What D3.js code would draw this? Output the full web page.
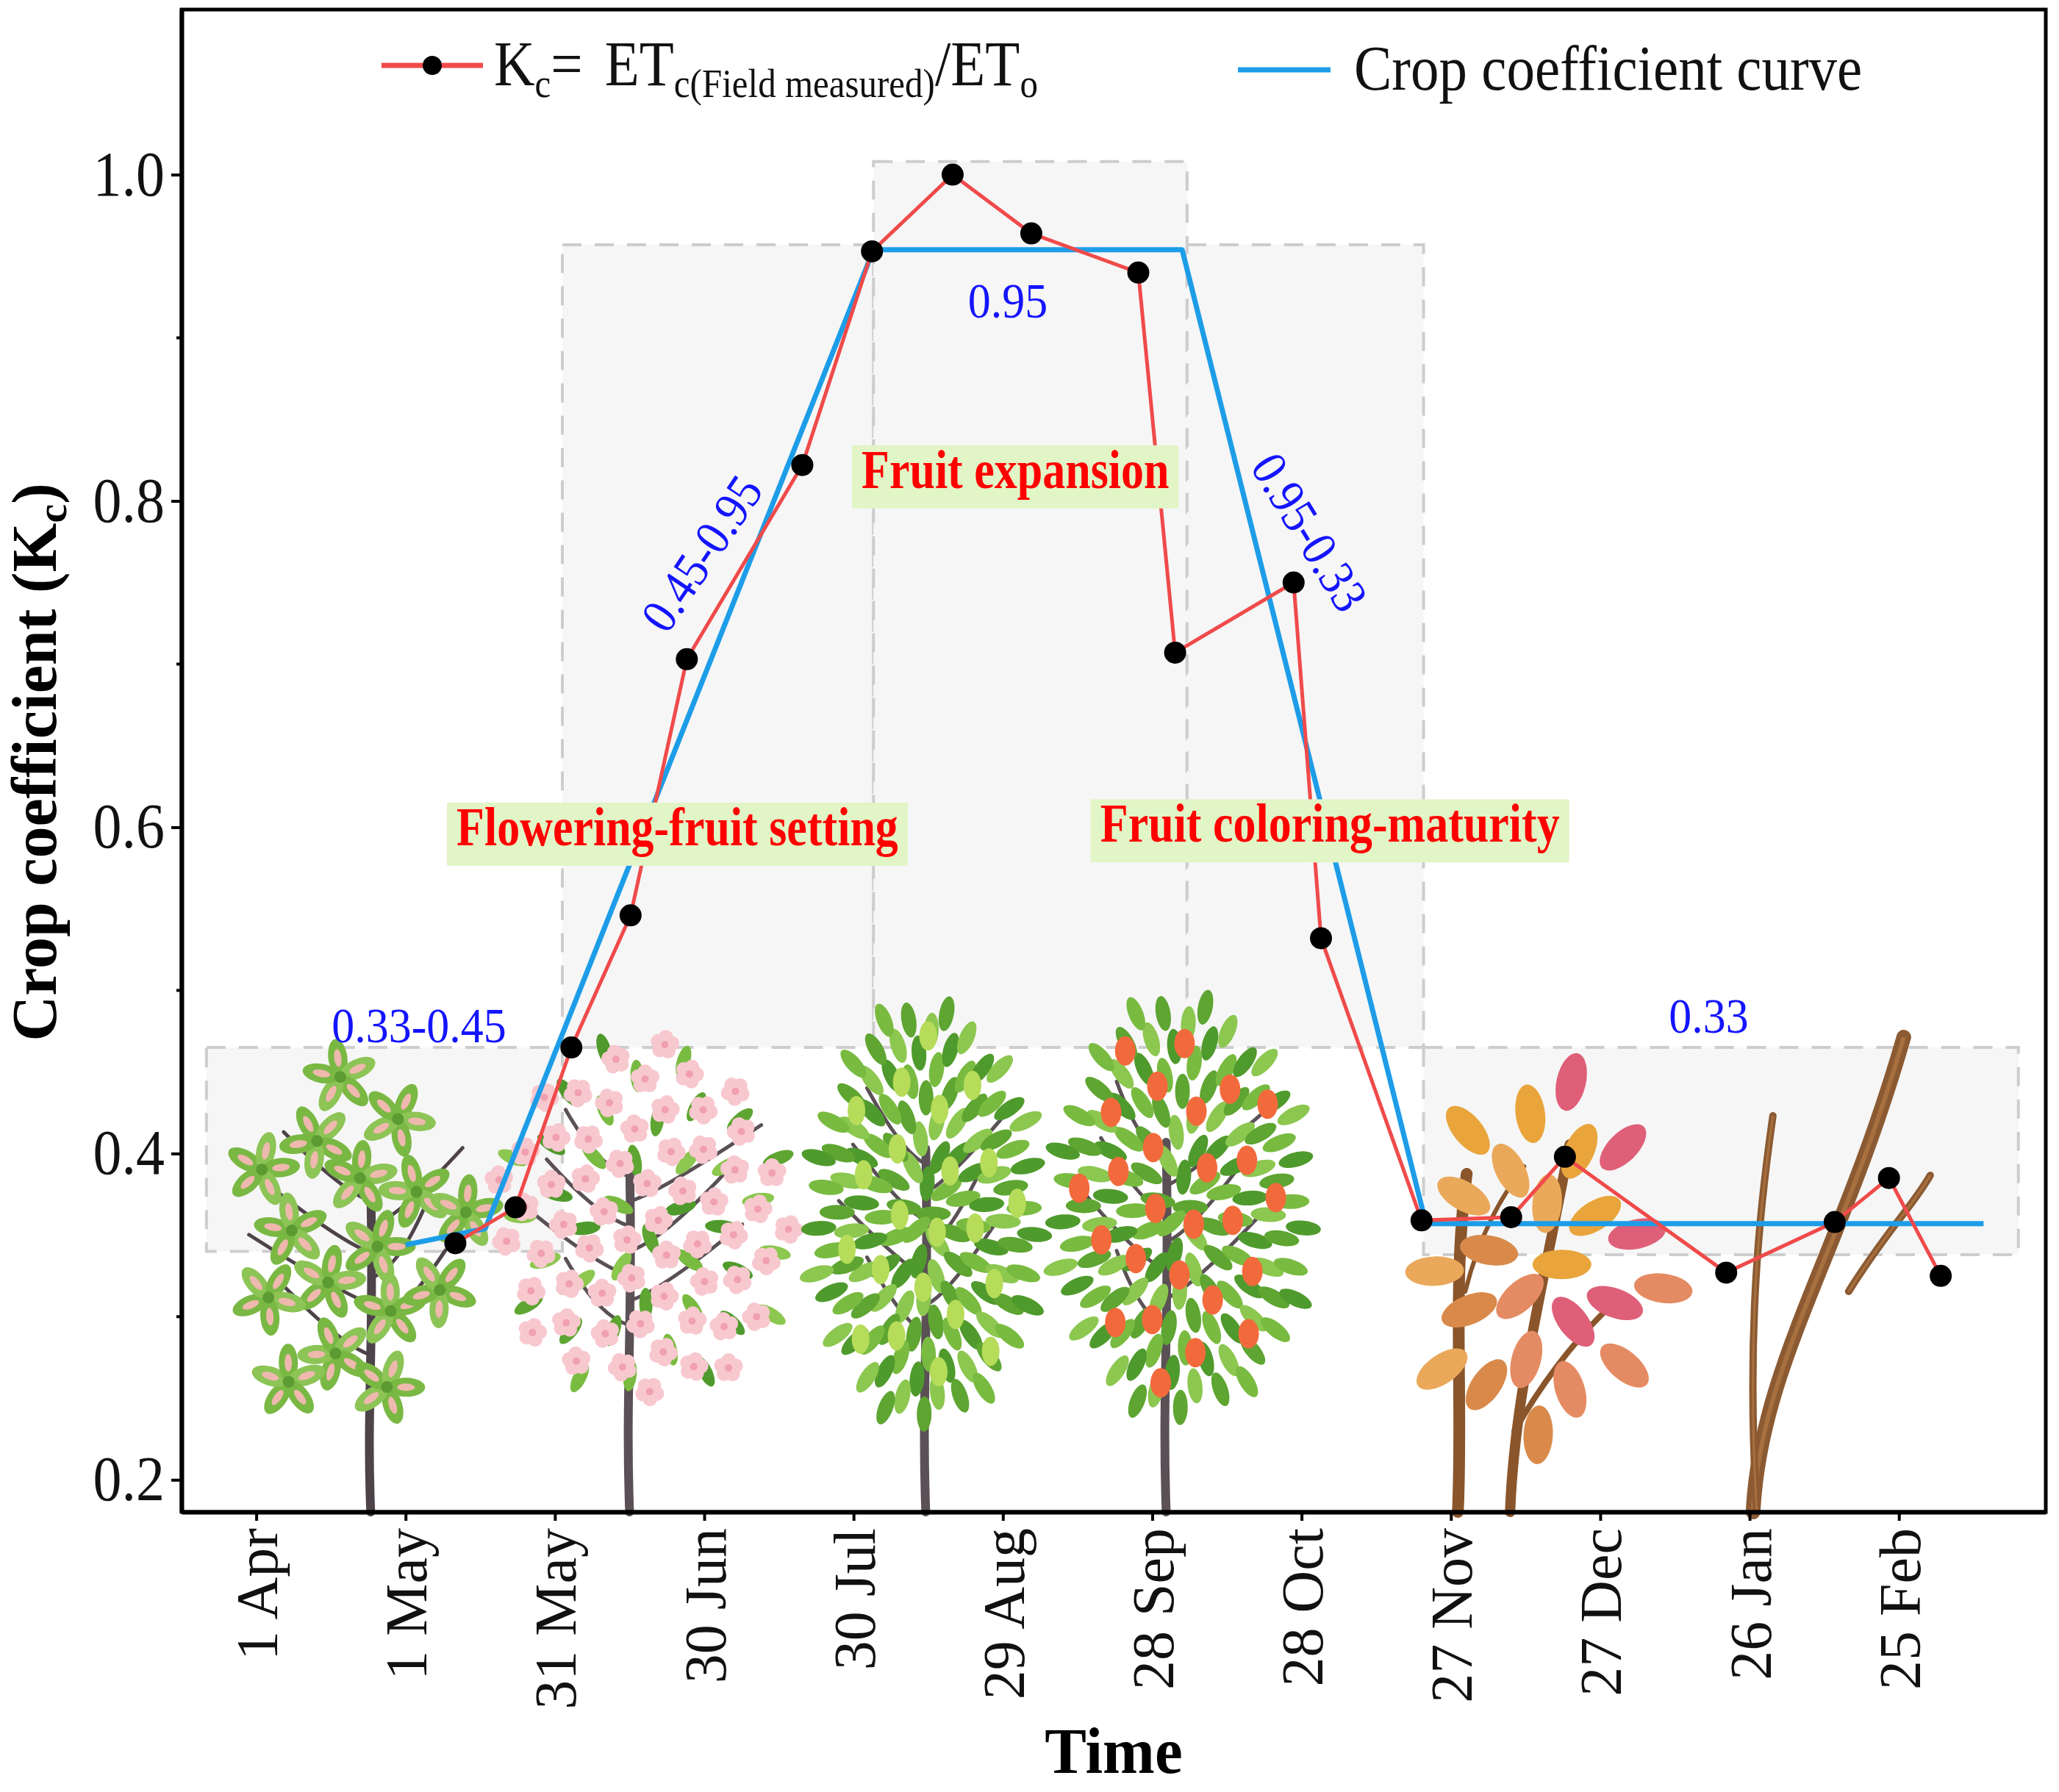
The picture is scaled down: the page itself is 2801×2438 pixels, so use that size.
<!DOCTYPE html>
<html>
<head>
<meta charset="utf-8">
<script src="https://cdn.jsdelivr.net/npm/d3@7"></script>
<style>
  body { margin: 0; background: #fff; }
  svg { display: block; }
</style>
</head>
<body>
<div id="chart"></div>
<script>
// ---- data (days counted from 1 Apr) ----
const tickDays = [0, 30, 60, 90, 120, 150, 180, 210, 240, 270, 300, 330];
const tickLabels = ["1 Apr", "1 May", "31 May", "30 Jun", "30 Jul", "29 Aug",
  "28 Sep", "28 Oct", "27 Nov", "27 Dec", "26 Jan", "25 Feb"];
const yTicks = [0.2, 0.4, 0.6, 0.8, 1.0];
const yMinorTicks = [0.3, 0.5, 0.7, 0.9];

// Kc = ETc(field measured) / ETo
const kcDays = [40.0, 52.1, 63.3, 75.2, 86.5, 109.7, 123.7, 139.9, 155.7, 177.2,
  184.6, 208.4, 213.9, 234.1, 252.1, 262.9, 295.3, 317.1, 328.0, 338.4];
const kcMeasured = [0.345, 0.367, 0.465, 0.546, 0.703, 0.822, 0.953, 1.000, 0.964, 0.940,
  0.707, 0.750, 0.532, 0.359, 0.361, 0.398, 0.327, 0.358, 0.385, 0.325];

// crop coefficient curve
const curveDays = [30, 46, 124, 186, 235, 347];
const curveKc = [0.344, 0.354, 0.954, 0.954, 0.357, 0.357];

// shaded growth stages
const stageStart = [-10, 61.5, 124, 187, 234.5];
const stageEnd = [61.5, 124, 187, 234.5, 354];
const stageLow = [0.34, 0.465, 0.465, 0.465, 0.338];
const stageHigh = [0.465, 0.957, 1.008, 0.957, 0.465];

// stage names
const stageNames = ["Flowering-fruit setting", "Fruit expansion", "Fruit coloring-maturity"];
const stageNameDay = [84.6, 152.5, 215.7];
const stageNameKc = [0.589, 0.808, 0.591];

// Kc value labels
const kcLabels = ["0.33-0.45", "0.45-0.95", "0.95", "0.95-0.33", "0.33"];
const kcLabelDay = [32.7, 89.4, 151, 211.7, 291.8];
const kcLabelKc = [0.479, 0.768, 0.923, 0.781, 0.485];
const kcLabelAngle = [0, -56, 0, 58.5, 0];

// ---- layout ----
const W = 2801, H = 2438;
const margin = {top: 13, right: 18, bottom: 381, left: 247};
const serif = "'Liberation Serif', 'Times New Roman', Times, serif";

const svg = d3.select("#chart").append("svg")
  .attr("width", W)
  .attr("height", H);

const x = d3.scaleLinear().domain([-15, 359.5]).range([margin.left, W - margin.right]);
const y = d3.scaleLinear().domain([0.1803, 1.1012]).range([H - margin.bottom, margin.top]);
const base = y.range()[0];

// stage boxes
svg.append("g").selectAll("rect")
  .data(stageStart)
  .join("rect")
  .attr("x", d => x(d))
  .attr("y", (d, i) => y(stageHigh[i]))
  .attr("width", (d, i) => x(stageEnd[i]) - x(d))
  .attr("height", (d, i) => y(stageLow[i]) - y(stageHigh[i]))
  .attr("fill", "#f6f6f6")
  .attr("stroke", "#cdcdcd")
  .attr("stroke-width", 4)
  .attr("stroke-dasharray", "26 18");

// ---- tree illustrations (decoration) ----
const trees = [
  {kind: "spring", day: 20, kc: 0.343, hw: 29, hh: 0.121, trunkDay: 23},
  {kind: "bloom", day: 78, kc: 0.359, hw: 31.7, hh: 0.117, trunkDay: 75},
  {kind: "young", day: 134.5, kc: 0.363, hw: 23.6, hh: 0.133, trunkDay: 134.5},
  {kind: "ripe", day: 186, kc: 0.367, hw: 26.3, hh: 0.133, trunkDay: 182.8},
  {kind: "autumn", day: 258.6, kc: 0.332, hw: 27, hh: 0.122, trunkDay: 241.4},
  {kind: "bare", day: 318, kc: 0.40, hw: 18, hh: 0.07, trunkDay: 300.7}
];
const GA = Math.PI * (3 - Math.sqrt(5));
const greens = ["#5ea531", "#79bb40", "#4f9a2c", "#8cc74f"];

function spots(n, cx, cy, rx, ry, fill, start) {
  const out = [];
  for (let i = 0; i < n; i++) {
    const r = Math.sqrt((i + 0.5) / n) * fill;
    const a = (i + start) * GA;
    out.push({x: cx + r * rx * Math.cos(a), y: cy + r * ry * Math.sin(a), a: a * 180 / Math.PI, i: i});
  }
  return out;
}

function woody(g, tx, cx, cy, rx, ry, color) {
  g.append("path")
    .attr("d", `M${tx},${base} C${tx - 6},${base - (base - cy) * 0.4} ${tx + 5},${cy + ry * 0.5} ${tx},${cy - ry * 0.3}`)
    .attr("fill", "none").attr("stroke", color).attr("stroke-width", 12).attr("stroke-linecap", "round");
  for (let k = 0; k < 7; k++) {
    const side = k % 2 ? 1 : -1;
    const sy = cy + ry * (0.55 - k * 0.13);
    const ex = cx + side * rx * (0.5 + 0.12 * (k % 3));
    const ey = sy - ry * (0.35 + 0.05 * (k % 2));
    g.append("path")
      .attr("d", `M${tx},${sy} Q${tx + side * rx * 0.2},${sy - ry * 0.05} ${ex},${ey}`)
      .attr("fill", "none").attr("stroke", color).attr("stroke-width", 5).attr("stroke-linecap", "round");
  }
}

function leaf(g, p, len, wid, color) {
  g.append("ellipse")
    .attr("cx", p.x).attr("cy", p.y).attr("rx", len).attr("ry", wid)
    .attr("transform", `rotate(${p.a},${p.x},${p.y})`)
    .attr("fill", color);
}

const treeLayer = svg.append("g");
trees.forEach(t => {
  const g = treeLayer.append("g");
  const cx = x(t.day), cy = y(t.kc);
  const rx = x(t.day + t.hw) - cx, ry = y(t.kc - t.hh) - cy;
  const tx = x(t.trunkDay);

  if (t.kind === "spring") {
    woody(g, tx, cx, cy, rx, ry, "#4d4349");
    spots(16, cx, cy, rx * 0.85, ry * 0.88, 1, 0).forEach(c => {
      for (let j = 0; j < 5; j++) {
        const a = c.a + j * 72;
        const r = a * Math.PI / 180;
        const p = {x: c.x + 26 * Math.cos(r), y: c.y + 26 * Math.sin(r), a: a};
        leaf(g, p, 26, 13, j % 2 ? "#8cc456" : "#7ab844");
        leaf(g, p, 12, 5, "#efb8ae");
      }
      g.append("circle").attr("cx", c.x).attr("cy", c.y).attr("r", 8).attr("fill", "#5c9a32");
    });
  } else if (t.kind === "bloom") {
    woody(g, tx, cx, cy, rx, ry, "#5a5055");
    spots(40, cx, cy, rx, ry, 0.95, 0.5).forEach(p => leaf(g, p, 22, 9, greens[p.i % 4]));
    spots(60, cx, cy, rx, ry, 0.95, 0).forEach(p => {
      for (let j = 0; j < 5; j++) {
        const r = (p.a + j * 72) * Math.PI / 180;
        g.append("circle").attr("cx", p.x + 10 * Math.cos(r)).attr("cy", p.y + 10 * Math.sin(r))
          .attr("r", 10).attr("fill", "#f8c8cf");
      }
      g.append("circle").attr("cx", p.x).attr("cy", p.y).attr("r", 5).attr("fill", "#f0a0ae");
    });
  } else if (t.kind === "young" || t.kind === "ripe") {
    woody(g, tx, cx, cy, rx, ry, "#5a5055");
    spots(120, cx, cy, rx, ry, 0.97, 0).forEach(p => leaf(g, p, 24, 10, greens[p.i % 4]));
    const fruit = t.kind === "young" ? "#b6dc5a" : "#f26a3c";
    spots(t.kind === "young" ? 22 : 26, cx, cy, rx * 0.85, ry * 0.85, 1, 0.3).forEach(p => {
      g.append("ellipse").attr("cx", p.x).attr("cy", p.y)
        .attr("rx", t.kind === "young" ? 12 : 14).attr("ry", 20).attr("fill", fruit);
    });
  } else if (t.kind === "autumn") {
    const brown = "#8a552b";
    [[`M${tx},${base} C${tx + 7},${base - 160} ${tx - 8},${base - 310} ${tx + 12},${base - 460}`, 16],
     [`M${tx + 71},${base} C${tx + 77},${base - 160} ${tx + 117},${base - 310} ${tx + 152},${base - 500}`, 14],
     [`M${tx + 77},${base - 110} C${tx + 117},${base - 180} ${tx + 157},${base - 230} ${tx + 197},${base - 270}`, 8],
     [`M${tx + 10},${base - 300} C${tx + 30},${base - 380} ${tx + 60},${base - 430} ${tx + 90},${base - 470}`, 6]]
      .forEach(b => g.append("path").attr("d", b[0]).attr("fill", "none").attr("stroke", brown)
        .attr("stroke-width", b[1]).attr("stroke-linecap", "round"));
    const warm = ["#e9a53b", "#e58b63", "#eaa85a", "#df5f78", "#d98a4a"];
    spots(24, cx, cy, rx, ry, 0.95, 0).forEach(p => leaf(g, p, 40, 20, warm[p.i % 5]));
  } else if (t.kind === "bare") {
    const brown = "#8b5a32";
    [[`M${tx},${base} C${tx + 10},${base - 200} ${tx + 120},${base - 350} ${tx + 205},${base - 646}`, 20],
     [`M${tx + 5},${base} C${tx - 10},${base - 250} ${tx + 10},${base - 420} ${tx + 27},${base - 539}`, 10],
     [`M${tx + 130},${base - 300} C${tx + 180},${base - 380} ${tx + 220},${base - 420} ${tx + 241},${base - 458}`, 10]]
      .forEach(b => {
        g.append("path").attr("d", b[0]).attr("fill", "none").attr("stroke", brown)
          .attr("stroke-width", b[1]).attr("stroke-linecap", "round");
        g.append("path").attr("d", b[0]).attr("fill", "none").attr("stroke", "#a8703f")
          .attr("stroke-width", b[1] * 0.3);
      });
  }
});

// ---- series ----
svg.append("path")
  .datum(curveKc)
  .attr("fill", "none")
  .attr("stroke", "#1d9de8")
  .attr("stroke-width", 7)
  .attr("stroke-linejoin", "round")
  .attr("d", d3.line().x((d, i) => x(curveDays[i])).y(d => y(d)));

svg.append("path")
  .datum(kcMeasured)
  .attr("fill", "none")
  .attr("stroke", "#f04a4a")
  .attr("stroke-width", 5)
  .attr("d", d3.line().x((d, i) => x(kcDays[i])).y(d => y(d)));

svg.append("g").selectAll("circle")
  .data(kcMeasured)
  .join("circle")
  .attr("cx", (d, i) => x(kcDays[i]))
  .attr("cy", d => y(d))
  .attr("r", 15)
  .attr("fill", "#000");

// ---- stage name boxes ----
stageNames.forEach((name, i) => {
  const px = x(stageNameDay[i]), py = y(stageNameKc[i]);
  const g = svg.append("g");
  const rect = g.append("rect").attr("fill", "#e2f5c6");
  const txt = g.append("text")
    .attr("text-anchor", "middle")
    .attr("font-family", serif)
    .attr("font-weight", "bold")
    .attr("font-size", 62)
    .attr("fill", "#ff0000")
    .attr("transform", `translate(${px},${py}) scale(1,1.18)`)
    .text(name);
  const w = txt.node().getComputedTextLength() + 26;
  rect.attr("x", px - w / 2).attr("y", py - 58).attr("width", w).attr("height", 86);
});

// ---- Kc value labels ----
kcLabels.forEach((lab, i) => {
  svg.append("text")
    .attr("text-anchor", "middle")
    .attr("dy", "0.35em")
    .attr("font-family", serif)
    .attr("font-size", 62)
    .attr("fill", "#1414ff")
    .attr("transform", `translate(${x(kcLabelDay[i])},${y(kcLabelKc[i])}) rotate(${kcLabelAngle[i]}) scale(1,1.1)`)
    .text(lab);
});

// ---- axes ----
const gy = svg.append("g")
  .attr("transform", `translate(${margin.left},0)`)
  .call(d3.axisLeft(y).tickValues(yTicks).tickFormat(d3.format(".1f"))
    .tickSize(14).tickPadding(9).tickSizeOuter(0));
gy.select(".domain").attr("stroke", "#000").attr("stroke-width", 6);
gy.selectAll(".tick line").attr("stroke", "#000").attr("stroke-width", 4);
gy.selectAll(".tick text")
  .attr("font-family", serif)
  .attr("font-size", 78)
  .attr("fill", "#111")
  .attr("transform", "scale(1,1.1)");

svg.append("g").selectAll("line")
  .data(yMinorTicks)
  .join("line")
  .attr("x1", margin.left - 7)
  .attr("x2", margin.left)
  .attr("y1", d => y(d))
  .attr("y2", d => y(d))
  .attr("stroke", "#000")
  .attr("stroke-width", 4);

const gx = svg.append("g")
  .attr("transform", `translate(0,${base})`)
  .call(d3.axisBottom(x).tickValues(tickDays).tickFormat((d, i) => tickLabels[i])
    .tickSize(12).tickSizeOuter(0));
gx.select(".domain").attr("stroke", "#000").attr("stroke-width", 6);
gx.selectAll(".tick line").attr("stroke", "#000").attr("stroke-width", 4);
gx.selectAll(".tick text")
  .attr("font-family", serif)
  .attr("font-size", 80)
  .attr("fill", "#111")
  .attr("transform", "rotate(-90)")
  .attr("x", -22)
  .attr("y", 0)
  .attr("dy", "0.35em")
  .style("text-anchor", "end");

// frame
svg.append("rect")
  .attr("x", margin.left)
  .attr("y", margin.top)
  .attr("width", W - margin.right - margin.left)
  .attr("height", base - margin.top)
  .attr("fill", "none")
  .attr("stroke", "#000")
  .attr("stroke-width", 5);

// axis titles
svg.append("text")
  .attr("text-anchor", "middle")
  .attr("font-family", serif)
  .attr("font-weight", "bold")
  .attr("font-size", 85)
  .attr("transform", `translate(${(margin.left + W - margin.right) / 2},2412) scale(1,1.05)`)
  .text("Time");

const yTitle = svg.append("text")
  .attr("text-anchor", "middle")
  .attr("font-family", serif)
  .attr("font-weight", "bold")
  .attr("font-size", 86)
  .attr("transform", "translate(76,1037) rotate(-90)");
yTitle.append("tspan").text("Crop coefficient (K");
yTitle.append("tspan").attr("font-size", 58).attr("dy", 14).text("c");
yTitle.append("tspan").attr("dy", -14).text(")");

// ---- legend ----
const leg = svg.append("g");
leg.append("line").attr("x1", 519).attr("x2", 657).attr("y1", 89).attr("y2", 89)
  .attr("stroke", "#f04a4a").attr("stroke-width", 7);
leg.append("circle").attr("cx", 588).attr("cy", 89).attr("r", 13).attr("fill", "#000");
const lt = leg.append("text")
  .attr("font-family", serif)
  .attr("font-size", 77)
  .attr("fill", "#111")
  .attr("transform", "translate(672,116) scale(1,1.12)");
lt.append("tspan").text("K");
lt.append("tspan").attr("font-size", 49).attr("dy", 14).text("c");
lt.append("tspan").attr("dy", -14).text("=");
lt.append("tspan").attr("dx", 30).text("ET");
lt.append("tspan").attr("font-size", 49).attr("dy", 14).text("c(Field measured)");
lt.append("tspan").attr("dy", -14).text("/ET");
lt.append("tspan").attr("font-size", 49).attr("dy", 14).text("o");

leg.append("line").attr("x1", 1684).attr("x2", 1810).attr("y1", 95).attr("y2", 95)
  .attr("stroke", "#1d9de8").attr("stroke-width", 7);
leg.append("text")
  .attr("font-family", serif)
  .attr("font-size", 77)
  .attr("fill", "#111")
  .attr("transform", "translate(1842,122) scale(1,1.12)")
  .text("Crop coefficient curve");
</script>
</body>
</html>
